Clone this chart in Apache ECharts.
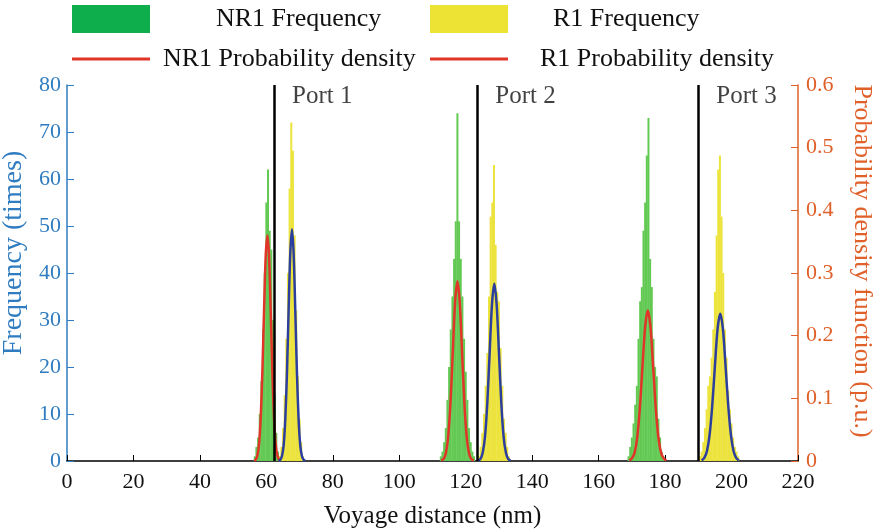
<!DOCTYPE html>
<html>
<head>
<meta charset="utf-8">
<script src="https://cdn.jsdelivr.net/npm/echarts@6/dist/echarts.min.js"></script>
<style>
  html, body { margin: 0; padding: 0; background: #fff; }
  #chart { width: 880px; height: 531px; }
</style>
</head>
<body>
<div id="chart"></div>
<script>
    // histogram bins: [bin centre (nm), count]
    var nr1Hist = [
        [56.5, 1], [57, 3], [57.5, 5], [58, 10], [58.5, 17], [59, 28], [59.5, 40], [60, 55], [60.5, 62],
        [61, 49], [61.5, 45], [62, 30], [62.5, 14], [63, 6], [63.5, 2], [64, 1],
        [112.5, 1], [113, 2], [113.5, 4], [114, 7], [114.5, 13], [115, 20], [115.5, 28], [116, 35],
        [116.5, 43], [117, 51], [117.5, 74], [118, 51], [118.5, 43], [119, 35], [119.5, 26], [120, 19],
        [120.5, 13], [121, 7], [121.5, 4], [122, 2], [122.5, 1],
        [169, 1], [169.5, 3], [170, 5], [170.5, 8], [171, 12], [171.5, 16], [172, 26], [172.5, 34],
        [173, 37], [173.5, 49], [174, 55], [174.5, 65], [175, 73], [175.5, 43], [176, 37], [176.5, 26],
        [177, 20], [177.5, 18], [178, 9], [178.5, 5], [179, 2], [179.5, 1]
    ];
    var r1Hist = [
        [64, 1], [64.5, 3], [65, 7], [65.5, 14], [66, 26], [66.5, 40], [67, 58], [67.5, 72], [68, 66],
        [68.5, 48], [69, 32], [69.5, 18], [70, 9], [70.5, 4], [71, 1],
        [124, 1], [124.5, 3], [125, 6], [125.5, 10], [126, 16], [126.5, 23], [127, 35], [127.5, 52],
        [128, 55], [128.5, 63], [129, 46], [129.5, 36], [130, 34], [130.5, 24], [131, 16], [131.5, 9],
        [132, 6], [132.5, 3], [133, 1],
        [190.5, 1], [191, 2], [191.5, 4], [192, 7], [192.5, 11], [193, 16], [193.5, 18], [194, 22],
        [194.5, 28], [195, 36], [195.5, 48], [196, 62], [196.5, 65], [197, 52], [197.5, 40], [198, 28],
        [198.5, 22], [199, 15], [199.5, 11], [200, 8], [200.5, 5], [201, 3], [201.5, 2], [202, 1]
    ];

    // fitted probability density: [distance (nm), p.u.]
    var nr1Pdf1 = [[56.3, 0.001], [56.8, 0.002], [57.3, 0.009], [57.8, 0.027], [58.3, 0.069], [58.8, 0.143],
        [59.3, 0.240], [59.8, 0.327], [60.3, 0.360], [60.8, 0.327], [61.3, 0.240], [61.8, 0.143],
        [62.3, 0.069], [62.8, 0.027], [63.3, 0.009], [63.8, 0.002], [64.3, 0.001]];
    var nr1Pdf2 = [[112.6, 0.001], [113.3, 0.003], [114.0, 0.012], [114.7, 0.038], [115.4, 0.092],
        [116.1, 0.173], [116.8, 0.253], [117.5, 0.287], [118.2, 0.253], [118.9, 0.173], [119.6, 0.092],
        [120.3, 0.038], [121.0, 0.012], [121.7, 0.003], [122.4, 0.001]];
    var nr1Pdf3 = [[169.2, 0.001], [170.0, 0.004], [170.8, 0.013], [171.6, 0.037], [172.4, 0.084],
        [173.2, 0.151], [174.0, 0.214], [174.8, 0.240], [175.6, 0.214], [176.4, 0.151], [177.2, 0.084],
        [178.0, 0.037], [178.8, 0.013], [179.6, 0.004], [180.4, 0.001]];
    var r1Pdf1 = [[63.7, 0.000], [64.2, 0.002], [64.7, 0.008], [65.2, 0.025], [65.7, 0.067], [66.2, 0.141],
        [66.7, 0.241], [67.2, 0.332], [67.7, 0.370], [68.2, 0.332], [68.7, 0.241], [69.2, 0.141],
        [69.7, 0.067], [70.2, 0.025], [70.7, 0.008], [71.2, 0.002], [71.7, 0.000]];
    var r1Pdf2 = [[123.7, 0.001], [124.4, 0.003], [125.1, 0.013], [125.8, 0.039], [126.5, 0.093],
        [127.2, 0.173], [127.9, 0.250], [128.6, 0.283], [129.3, 0.250], [130.0, 0.173], [130.7, 0.093],
        [131.4, 0.039], [132.1, 0.013], [132.8, 0.003], [133.5, 0.001]];
    var r1Pdf3 = [[191.0, 0.001], [191.8, 0.005], [192.6, 0.016], [193.4, 0.042], [194.2, 0.089],
        [195.0, 0.152], [195.8, 0.211], [196.6, 0.235], [197.4, 0.211], [198.2, 0.152], [199.0, 0.089],
        [199.8, 0.042], [200.6, 0.016], [201.4, 0.005], [202.2, 0.001]];

    var portX = [62.3, 123.5, 190];
    var portNames = ['Port 1', 'Port 2', 'Port 3'];

    var font = "'Liberation Serif', 'Times New Roman', serif";
    var blue = '#2f7cc0';
    var orange = '#e0602a';

    // '-' breaks the line between ports
    function joinCurves(a, b, c) {
        return a.concat([['-', '-']], b, [['-', '-']], c);
    }

    function oneLegend(name, left, top, h, gap, color) {
        return {
            data: [{ name: name, icon: 'rect', itemStyle: { color: color } }],
            left: left, top: top, padding: 0,
            itemWidth: 78, itemHeight: h,
            selectedMode: false,
            textStyle: { fontFamily: font, fontSize: 26, color: '#111', padding: [0, 0, 0, gap] }
        };
    }

    var chart = echarts.init(document.getElementById('chart'));
    var option = {
        animation: false,
        legend: [
            oneLegend('NR1 Frequency', 72, 5, 28, 61, '#0fae4c'),
            oneLegend('R1 Frequency', 430, 5, 28, 40, '#ece334'),
            oneLegend('NR1 Probability density', 72, 46, 3, 8, '#e2352a'),
            oneLegend('R1 Probability density', 430, 46, 3, 27, '#e2352a')
        ],
        grid: { left: 67, right: 82, top: 85, bottom: 70, outerBoundsMode: 'none' },
        xAxis: {
            type: 'value', min: 0, max: 220, interval: 20,
            name: 'Voyage distance (nm)', nameLocation: 'middle', nameGap: 43,
            nameTextStyle: { fontFamily: font, fontSize: 25, color: '#111' },
            axisLine: { lineStyle: { color: '#000', width: 1.5 } },
            axisTick: { inside: true, length: 6, lineStyle: { color: '#000' } },
            axisLabel: { fontFamily: font, fontSize: 22, color: '#111', margin: 10 },
            splitLine: { show: false }
        },
        yAxis: [{
            type: 'value', min: 0, max: 80, interval: 10,
            name: 'Frequency (times)', nameLocation: 'middle', nameGap: 37, nameRotate: 90,
            nameTextStyle: { fontFamily: font, fontSize: 28, color: blue, padding: [0, 0, 0, 40] },
            axisLine: { show: true, lineStyle: { color: blue, width: 1.5 } },
            axisTick: { show: true, inside: true, length: 7, lineStyle: { color: blue } },
            axisLabel: { fontFamily: font, fontSize: 22, color: blue, margin: 6 },
            splitLine: { show: false }
        }, {
            type: 'value', min: 0, max: 0.6, interval: 0.1, position: 'right',
            name: 'Probability density function (p.u.)', nameLocation: 'middle', nameGap: 51, nameRotate: -90,
            nameTextStyle: { fontFamily: font, fontSize: 26, color: orange, padding: [0, 24, 0, 0] },
            axisLine: { show: true, lineStyle: { color: orange, width: 1.5 } },
            axisTick: { show: true, inside: true, length: 7, lineStyle: { color: orange } },
            axisLabel: { fontFamily: font, fontSize: 22, color: orange, margin: 8 },
            splitLine: { show: false }
        }],
        series: [{
            name: 'NR1 Frequency',
            type: 'bar',
            barWidth: 2,
            barGap: '-100%',
            itemStyle: { color: '#62c953' },
            data: nr1Hist
        }, {
            name: 'R1 Frequency',
            type: 'bar',
            barWidth: 2,
            barGap: '-100%',
            itemStyle: { color: '#ece33c' },
            data: r1Hist
        }, {
            name: 'NR1 Probability density',
            type: 'line',
            yAxisIndex: 1,
            smooth: 0.3,
            showSymbol: false,
            connectNulls: false,
            lineStyle: { color: '#e2352a', width: 2.5 },
            itemStyle: { color: '#e2352a' },
            data: joinCurves(nr1Pdf1, nr1Pdf2, nr1Pdf3),
            z: 4
        }, {
            name: 'R1 Probability density',
            type: 'line',
            yAxisIndex: 1,
            smooth: 0.3,
            showSymbol: false,
            connectNulls: false,
            lineStyle: { color: '#2c3f9f', width: 2.5 },
            itemStyle: { color: '#2c3f9f' },
            data: joinCurves(r1Pdf1, r1Pdf2, r1Pdf3),
            z: 4
        }, {
            name: 'ports',
            type: 'scatter',
            symbolSize: 0,
            silent: true,
            z: 5,
            data: portX.map(function (x, i) { return { value: [x, 77.5], name: portNames[i] }; }),
            label: {
                show: true, position: 'right', distance: 18,
                formatter: function (p) { return p.name; },
                fontFamily: font, fontSize: 25, color: '#111'
            },
            markLine: {
                silent: true,
                symbol: ['none', 'none'],
                label: { show: false },
                lineStyle: { color: '#000', width: 2.5, type: 'solid' },
                data: portX.map(function (x) { return { xAxis: x }; })
            }
        }]
    };
    chart.setOption(option);
</script>
</body>
</html>
